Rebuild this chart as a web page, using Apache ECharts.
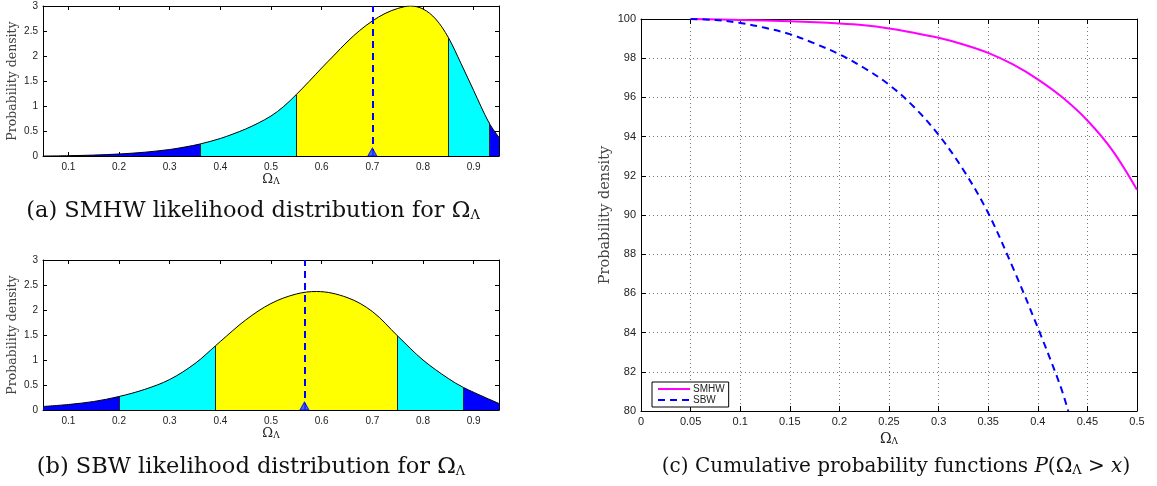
<!DOCTYPE html>
<html>
<head>
<meta charset="utf-8">
<script src="https://cdn.jsdelivr.net/npm/echarts@6/dist/echarts.min.js"></script>
<style>
  html, body { margin: 0; padding: 0; background: #fff; }
  #chart { width: 1157px; height: 486px; }
</style>
</head>
<body>
<div id="chart"></div>
<script>
// (a) SMHW likelihood for Omega_Lambda
const smhwX = [0.05, 0.1, 0.15, 0.2, 0.25, 0.3, 0.33, 0.36, 0.4, 0.425, 0.45, 0.475, 0.5, 0.525, 0.55, 0.575, 0.6, 0.625, 0.65, 0.675, 0.7, 0.725, 0.75, 0.775, 0.8, 0.825, 0.85, 0.875, 0.9, 0.93, 0.95];
const smhwPdf = [0.0, 0.006, 0.018, 0.04, 0.075, 0.13, 0.18, 0.24, 0.35, 0.44, 0.54, 0.66, 0.8, 0.99, 1.23, 1.49, 1.76, 2.02, 2.28, 2.51, 2.7, 2.85, 2.95, 3.0, 2.94, 2.74, 2.37, 1.85, 1.31, 0.67, 0.37];
const smhwBounds = [0.36, 0.55, 0.85, 0.93];
const smhwBest = 0.7;

// (b) SBW likelihood for Omega_Lambda
const sbwX = [0.05, 0.1, 0.15, 0.2, 0.25, 0.3, 0.35, 0.39, 0.4, 0.45, 0.5, 0.55, 0.59, 0.65, 0.7, 0.75, 0.8, 0.85, 0.88, 0.95];
const sbwPdf = [0.07, 0.11, 0.17, 0.27, 0.41, 0.61, 0.93, 1.28, 1.37, 1.8, 2.13, 2.32, 2.37, 2.25, 1.97, 1.48, 1.0, 0.63, 0.45, 0.13];
const sbwBounds = [0.2, 0.39, 0.75, 0.88];
const sbwBest = 0.566;

const pdfTicks = [0.1, 0.2, 0.3, 0.4, 0.5, 0.6, 0.7, 0.8, 0.9];

// (c) cumulative probability P(Omega_Lambda > x), in percent
const cumSmhwX = [0.05, 0.1, 0.15, 0.2, 0.225, 0.25, 0.275, 0.3, 0.325, 0.35, 0.375, 0.4, 0.425, 0.45, 0.475, 0.5];
const cumSmhwY = [100, 99.95, 99.88, 99.77, 99.68, 99.52, 99.3, 99.04, 98.7, 98.27, 97.68, 96.92, 95.99, 94.82, 93.31, 91.29];
const cumSbwX = [0.05, 0.075, 0.1, 0.125, 0.15, 0.175, 0.2, 0.225, 0.25, 0.275, 0.3, 0.325, 0.35, 0.375, 0.4, 0.4224, 0.4307];
const cumSbwY = [100, 99.95, 99.8, 99.55, 99.23, 98.75, 98.2, 97.5, 96.65, 95.52, 94.09, 92.3, 90.1, 87.3, 84.25, 81.33, 80.0];

const BLUE = '#0000ff', CYAN = '#00ffff', YELLOW = '#ffff00';
const tickFont = 'Liberation Sans';
const serif = 'DejaVu Serif';
const SMOOTH = 0.35;

const zip = (xs, ys) => xs.map((x, i) => [x, ys[i]]);
const yAt = (xs, ys, b) => ys[xs.indexOf(b)];

const subRich = {
  sub: { fontFamily: serif, fontSize: 9, verticalAlign: 'bottom', lineHeight: 12 }
};

// x axis pair (bottom + mirrored top) per pdf panel
function pdfAxes(grid) {
  const base = {
    gridIndex: grid, type: 'value', min: 0.05, max: 0.95,
    axisLine: { show: true, onZero: false, lineStyle: { color: '#000', width: 1 } },
    axisTick: { inside: true, length: 4, customValues: pdfTicks, lineStyle: { color: '#000' } },
    splitLine: { show: false }
  };
  return [
    Object.assign({}, base, {
      position: 'bottom',
      axisLabel: { customValues: pdfTicks, color: '#222', fontFamily: tickFont, fontSize: 10, margin: 6 },
      name: 'Ω{sub|Λ}', nameLocation: 'middle', nameGap: 16,
      nameTextStyle: { fontFamily: serif, fontSize: 13, color: '#222', rich: subRich }
    }),
    Object.assign({}, base, { position: 'top', axisLabel: { show: false } })
  ];
}
function pdfYAxes(grid) {
  const base = {
    gridIndex: grid, type: 'value', min: 0, max: 3, interval: 0.5,
    axisLine: { show: true, onZero: false, lineStyle: { color: '#000', width: 1 } },
    axisTick: { inside: true, length: 4, lineStyle: { color: '#000' } },
    splitLine: { show: false }
  };
  return [
    Object.assign({}, base, {
      position: 'left',
      axisLabel: { color: '#222', fontFamily: tickFont, fontSize: 10, margin: 5 },
      name: 'Probability density', nameLocation: 'middle', nameGap: 24,
      nameTextStyle: { fontFamily: serif, fontSize: 12.5, color: '#444' }
    }),
    Object.assign({}, base, { position: 'right', axisLabel: { show: false } })
  ];
}

function pdfSeries(ax, xs, ys, bounds, best) {
  const data = zip(xs, ys);
  return [
    {
      // filled regions, coloured by visualMap on x
      type: 'line', xAxisIndex: ax, yAxisIndex: ax, data: data,
      smooth: SMOOTH, symbol: 'none',
      lineStyle: { width: 0 }, areaStyle: { opacity: 1 }, z: 1, silent: true
    },
    {
      type: 'line', xAxisIndex: ax, yAxisIndex: ax, data: data,
      smooth: SMOOTH, symbol: 'none',
      lineStyle: { color: '#000', width: 1 }, z: 3, silent: true,
      markLine: {
        silent: true, symbol: ['none', 'none'], label: { show: false },
        lineStyle: { color: '#222', width: 1, type: 'solid' },
        data: bounds.map(b => [{ coord: [b, 0] }, { coord: [b, yAt(xs, ys, b)] }])
      }
    },
    {
      type: 'scatter', xAxisIndex: ax, yAxisIndex: ax, data: [[best, 0]],
      symbol: 'triangle', symbolSize: [9, 8], symbolOffset: [0, -4],
      itemStyle: { color: '#2244ff', borderColor: BLUE, borderWidth: 1 }, z: 5, silent: true,
      markLine: {
        silent: true, symbol: ['none', 'none'], label: { show: false },
        lineStyle: { color: BLUE, width: 2, type: [7, 5] },
        data: [[{ coord: [best, 0] }, { coord: [best, 3] }]]
      }
    }
  ];
}

function piecesFor(bounds) {
  return [
    { lt: bounds[0], color: BLUE },
    { gte: bounds[0], lt: bounds[1], color: CYAN },
    { gte: bounds[1], lt: bounds[2], color: YELLOW },
    { gte: bounds[2], lt: bounds[3], color: CYAN },
    { gte: bounds[3], color: BLUE }
  ];
}

const cAxisBase = {
  gridIndex: 2, type: 'value',
  axisLine: { show: true, onZero: false, lineStyle: { color: '#000', width: 1 } },
  axisTick: { inside: true, length: 5, lineStyle: { color: '#000' } }
};

const captionRich = {
  sub: { fontFamily: serif, fontSize: 13, verticalAlign: 'bottom', lineHeight: 16 },
  it: { fontFamily: serif, fontSize: 20, fontStyle: 'italic' }
};

const option = {
  animation: false,
  backgroundColor: '#fff',
  grid: [
    { left: 43, top: 6, width: 456, height: 150 },
    { left: 43, top: 260, width: 456, height: 150 },
    { left: 641, top: 19, width: 496, height: 392 }
  ],
  xAxis: [
    ...pdfAxes(0),
    ...pdfAxes(1),
    Object.assign({}, cAxisBase, {
      position: 'bottom', min: 0, max: 0.5, interval: 0.05,
      axisLabel: { color: '#222', fontFamily: tickFont, fontSize: 11, margin: 5 },
      splitLine: { show: true, lineStyle: { color: '#777', type: [1, 3], width: 1 } },
      name: 'Ω{sub|Λ}', nameLocation: 'middle', nameGap: 18,
      nameTextStyle: { fontFamily: serif, fontSize: 14, color: '#222', rich: subRich }
    }),
    Object.assign({}, cAxisBase, {
      position: 'top', min: 0, max: 0.5, interval: 0.05,
      axisLabel: { show: false }, splitLine: { show: false }
    })
  ],
  yAxis: [
    ...pdfYAxes(0),
    ...pdfYAxes(1),
    Object.assign({}, cAxisBase, {
      position: 'left', min: 80, max: 100, interval: 2,
      axisLabel: { color: '#222', fontFamily: tickFont, fontSize: 11, margin: 5 },
      splitLine: { show: true, lineStyle: { color: '#777', type: [1, 3], width: 1 } },
      name: 'Probability density', nameLocation: 'middle', nameGap: 28,
      nameTextStyle: { fontFamily: serif, fontSize: 14.5, color: '#444' }
    }),
    Object.assign({}, cAxisBase, {
      position: 'right', min: 80, max: 100, interval: 2,
      axisLabel: { show: false }, splitLine: { show: false }
    })
  ],
  visualMap: [
    { type: 'piecewise', show: false, dimension: 0, seriesIndex: 0, pieces: piecesFor(smhwBounds) },
    { type: 'piecewise', show: false, dimension: 0, seriesIndex: 3, pieces: piecesFor(sbwBounds) }
  ],
  legend: {
    data: ['SMHW', 'SBW'],
    orient: 'vertical', left: 652, top: 382,
    backgroundColor: '#fff', borderColor: '#000', borderWidth: 1,
    padding: [2, 4, 2, 5], itemGap: 1, itemWidth: 32, itemHeight: 9,
    itemStyle: { color: 'transparent', borderColor: 'transparent', borderWidth: 0 },
    textStyle: { fontFamily: tickFont, fontSize: 10, color: '#222', padding: [0, 0, 0, -2] }
  },
  series: [
    ...pdfSeries(0, smhwX, smhwPdf, smhwBounds, smhwBest),
    ...pdfSeries(2, sbwX, sbwPdf, sbwBounds, sbwBest),
    {
      name: 'SMHW', type: 'line', xAxisIndex: 4, yAxisIndex: 4,
      data: zip(cumSmhwX, cumSmhwY), smooth: SMOOTH, symbol: 'none',
      lineStyle: { color: '#ff00ff', width: 2 }, itemStyle: { color: '#ff00ff' }
    },
    {
      name: 'SBW', type: 'line', xAxisIndex: 4, yAxisIndex: 4,
      data: zip(cumSbwX, cumSbwY), smooth: SMOOTH, symbol: 'none',
      lineStyle: { color: BLUE, width: 2, type: [7, 5] }, itemStyle: { color: BLUE }
    }
  ],
  graphic: [
    {
      type: 'text', x: 253, y: 211,
      style: {
        text: '(a) SMHW likelihood distribution for Ω{sub|Λ}',
        fontFamily: serif, fontSize: 22.5, fill: '#111', align: 'center', verticalAlign: 'middle',
        rich: captionRich
      }
    },
    {
      type: 'text', x: 251, y: 467,
      style: {
        text: '(b) SBW likelihood distribution for Ω{sub|Λ}',
        fontFamily: serif, fontSize: 22.5, fill: '#111', align: 'center', verticalAlign: 'middle',
        rich: captionRich
      }
    },
    {
      type: 'text', x: 896, y: 467,
      style: {
        text: '(c) Cumulative probability functions {it|P}(Ω{sub|Λ} > {it|x})',
        fontFamily: serif, fontSize: 20, fill: '#111', align: 'center', verticalAlign: 'middle',
        rich: captionRich
      }
    }
  ]
};

const chart = echarts.init(document.getElementById('chart'), null, { renderer: 'canvas' });
chart.setOption(option);
</script>
</body>
</html>
